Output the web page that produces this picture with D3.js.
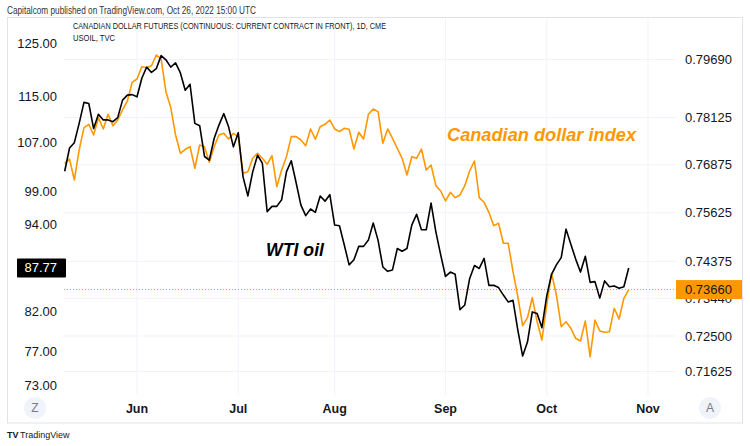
<!DOCTYPE html>
<html><head><meta charset="utf-8">
<script src="https://cdn.jsdelivr.net/npm/d3@7"></script>
<style>body{margin:0;background:#fff}svg{display:block}text{font-family:"Liberation Sans",Arial,Helvetica,sans-serif}</style>
</head><body><svg id="c" width="750" height="446"></svg>
<script>
const months=["Jun","Jul","Aug","Sep","Oct","Nov"];
const monthIdx=[15,36,56,79,100,121];
const leftTicks=[125,115,107,99,94,82,77,73];
const rightTicks=[0.7969,0.78125,0.76875,0.75625,0.74375,0.7344,0.725,0.71625];
const wti=[102.2,106.0,106.9,110.2,113.9,113.7,109.3,111.8,110.8,110.8,
110.5,111.2,114.3,115.2,115.3,114.9,118.3,120.4,119.4,120.1,
122.6,121.8,120.4,121.2,119.3,116.1,117.2,110.2,109.8,104.6,
104.0,107.6,109.9,111.9,109.6,106.2,108.6,101.3,98.3,102.1,
104.8,103.5,95.9,96.7,96.7,97.7,102.1,103.9,100.4,96.9,
95.3,96.3,95.8,98.3,97.5,98.5,93.9,93.8,91.0,88.2,
88.9,90.8,90.8,91.7,94.2,91.7,87.9,87.3,87.5,90.5,
90.1,90.5,93.9,95.5,93.2,93.2,97.2,92.9,89.6,86.6,
87.2,86.9,82.2,82.8,86.3,88.1,87.7,89.1,85.4,85.4,
85.1,84.1,83.2,83.4,79.6,76.4,78.1,81.9,81.7,79.9,
84.0,86.9,88.2,89.2,93.3,91.1,89.0,87.2,89.4,85.8,
85.9,83.7,86.0,85.2,85.3,85.0,85.2,87.77];
const cad=[0.76911,0.77023,0.76473,0.77262,0.77853,0.77944,0.77659,0.78120,0.77819,0.78211,
0.77906,0.78058,0.78326,0.78567,0.79071,0.79160,0.79494,0.79467,0.79521,0.79812,
0.79704,0.78818,0.78393,0.77659,0.77174,0.77280,0.77349,0.76780,0.77393,0.77349,
0.76937,0.77349,0.77659,0.77704,0.77553,0.77704,0.77615,0.76649,0.76690,0.77042,
0.77174,0.77042,0.76884,0.77111,0.76298,0.76735,0.77082,0.77615,0.77615,0.77526,
0.77375,0.77819,0.77545,0.77880,0.77944,0.78058,0.77819,0.77748,0.77838,0.77811,
0.77288,0.77732,0.77553,0.78211,0.78353,0.78281,0.77438,0.77819,0.77571,0.77306,
0.77042,0.76604,0.77085,0.77042,0.77288,0.76735,0.76866,0.76325,0.76186,0.75926,
0.76152,0.76012,0.76082,0.76325,0.76709,0.76971,0.76012,0.75892,0.75633,0.75288,
0.75349,0.74836,0.74836,0.74112,0.73481,0.72756,0.72955,0.73456,0.72855,0.72401,
0.73273,0.74071,0.73524,0.72731,0.72855,0.72691,0.72443,0.72376,0.72872,0.71989,
0.72897,0.72624,0.72592,0.72607,0.73190,0.72922,0.73441,0.73660];
const lastWti=wti[wti.length-1], lastCad=cad[cad.length-1];

const svg=d3.select("#c");
const x=d3.scaleLinear().domain([0,117]).range([64.7,628.7]);
const yL=d3.scaleLog().domain([73,125]).range([385,43.3]);
const yR=d3.scaleLog().domain([0.71625,0.7969]).range([371.5,59.5]);
const plotL=64,plotR=676,plotT=17,plotB=395;

// frame
svg.append("rect").attr("x",7.5).attr("y",17.5).attr("width",735).attr("height",405.5)
  .attr("fill","none").attr("stroke","#e0e3eb");
// grid
svg.append("g").selectAll("line").data(monthIdx).join("line")
  .attr("x1",d=>x(d)).attr("x2",d=>x(d)).attr("y1",plotT+1).attr("y2",plotB)
  .attr("stroke","#f0f3fa");
svg.append("g").selectAll("line").data(rightTicks).join("line")
  .attr("x1",plotL).attr("x2",plotR).attr("y1",d=>yR(d)).attr("y2",d=>yR(d))
  .attr("stroke","#f0f3fa");
// price line
svg.append("line").attr("x1",plotL).attr("x2",plotR).attr("y1",yR(lastCad)).attr("y2",yR(lastCad))
  .attr("stroke","#ff9800").attr("stroke-width",1).attr("stroke-dasharray","1,2");
// series
svg.append("path").datum(cad).attr("fill","none").attr("stroke","#ff9800").attr("stroke-width",1.6)
  .attr("stroke-linejoin","round")
  .attr("d",d3.line().x((d,i)=>x(i)).y(d=>yR(d)));
svg.append("path").datum(wti).attr("fill","none").attr("stroke","#000").attr("stroke-width",1.6)
  .attr("stroke-linejoin","round")
  .attr("d",d3.line().x((d,i)=>x(i)).y(d=>yL(d)));
// annotations
svg.append("text").attr("x",447).attr("y",141).attr("font-size",18).attr("font-weight","bold")
  .attr("font-style","italic").attr("fill","#ff9800").attr("textLength",189).attr("lengthAdjust","spacingAndGlyphs")
  .text("Canadian dollar index");
svg.append("text").attr("x",266).attr("y",256).attr("font-size",18).attr("font-weight","bold")
  .attr("font-style","italic").attr("fill","#000").attr("textLength",58).attr("lengthAdjust","spacingAndGlyphs")
  .text("WTI oil");
// left axis labels
svg.append("g").selectAll("text").data(leftTicks).join("text")
  .attr("x",57).attr("y",d=>yL(d)).attr("dy","0.35em").attr("text-anchor","end")
  .attr("font-size",13).attr("fill","#131722").text(d=>d3.format(".2f")(d));
// right axis labels
svg.append("g").selectAll("text").data(rightTicks).join("text")
  .attr("x",685).attr("y",d=>yR(d)).attr("dy","0.35em").attr("text-anchor","start")
  .attr("font-size",13).attr("fill","#131722").text(d=>d3.format(".5f")(d));
// last value boxes
svg.append("rect").attr("x",17).attr("y",yL(lastWti)-9.5).attr("width",49).attr("height",19)
  .attr("fill","#000").attr("rx",1);
svg.append("text").attr("x",57).attr("y",yL(lastWti)).attr("dy","0.35em").attr("text-anchor","end")
  .attr("font-size",13).attr("fill","#fff").text(d3.format(".2f")(lastWti));
svg.append("rect").attr("x",676).attr("y",yR(lastCad)-9.5).attr("width",66).attr("height",19)
  .attr("fill","#ff9800");
svg.append("text").attr("x",685).attr("y",yR(lastCad)).attr("dy","0.35em")
  .attr("font-size",13).attr("fill","#131722").text(d3.format(".5f")(lastCad));
// month labels
svg.append("g").selectAll("text").data(months).join("text")
  .attr("x",(d,i)=>x(monthIdx[i])).attr("y",412.5).attr("text-anchor","middle")
  .attr("font-size",12.5).attr("font-weight","bold").attr("fill","#131722").text(d=>d);
// buttons
[["Z",35],["A",710]].forEach(([t,cx])=>{
  svg.append("circle").attr("cx",cx).attr("cy",408).attr("r",11).attr("fill","#f0f3fa");
  svg.append("text").attr("x",cx).attr("y",408).attr("dy","0.35em").attr("text-anchor","middle")
    .attr("font-size",12).attr("fill","#787b86").text(t);
});
// header
svg.append("text").attr("x",7).attr("y",13.5).attr("font-size",10.5).attr("fill","#333")
  .attr("textLength",249).attr("lengthAdjust","spacingAndGlyphs")
  .text("Capitalcom published on TradingView.com, Oct 26, 2022 15:00 UTC");
svg.append("text").attr("x",73).attr("y",28.5).attr("font-size",9.5).attr("fill","#131722")
  .attr("textLength",313).attr("lengthAdjust","spacingAndGlyphs")
  .text("CANADIAN DOLLAR FUTURES (CONTINUOUS: CURRENT CONTRACT IN FRONT), 1D, CME");
svg.append("text").attr("x",73).attr("y",41).attr("font-size",9.5).attr("fill","#131722")
  .attr("textLength",42).attr("lengthAdjust","spacingAndGlyphs").text("USOIL, TVC");
// logo
svg.append("text").attr("x",7).attr("y",438).attr("font-size",9).attr("font-weight","bold").attr("fill","#131722").text("TV");
svg.append("text").attr("x",20).attr("y",438).attr("font-size",9).attr("fill","#131722").text("TradingView");
</script></body></html>
